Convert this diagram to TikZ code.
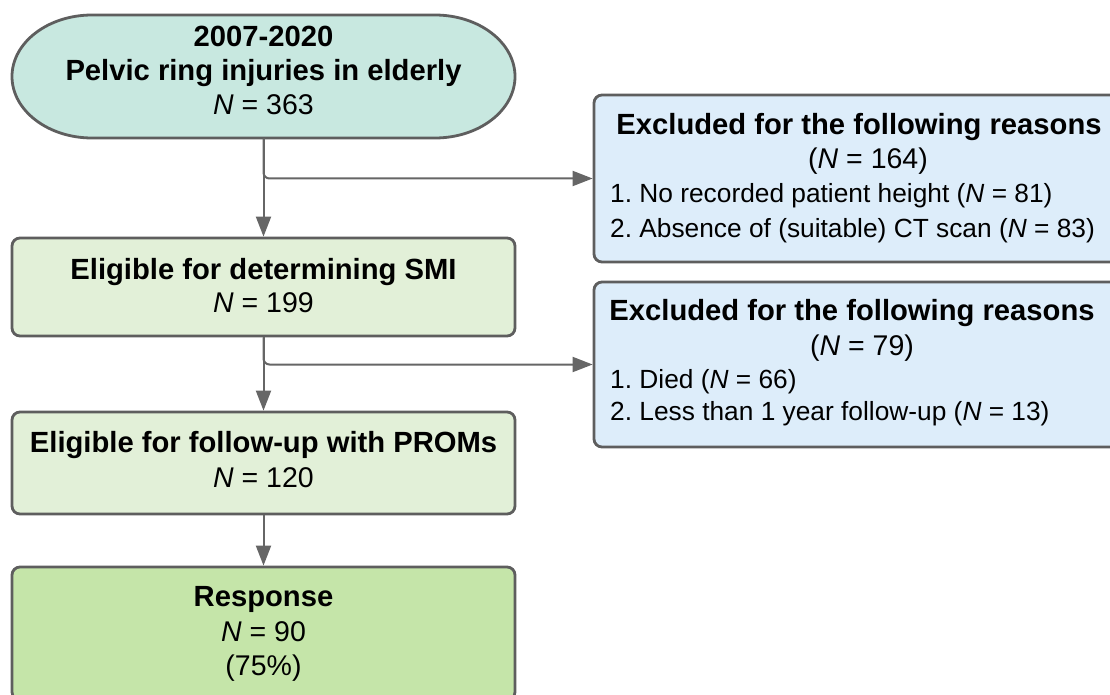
\documentclass[tikz,border=0pt]{standalone}
\usepackage{fontspec}
\setmainfont{Liberation Sans}
\usetikzlibrary{arrows.meta}
\frenchspacing
\definecolor{cTop}{RGB}{200,232,224}
\definecolor{cGreen}{RGB}{226,240,216}
\definecolor{cResp}{RGB}{197,229,169}
\definecolor{cBlue}{RGB}{221,237,250}
\definecolor{cBorder}{RGB}{94,94,94}
\definecolor{cLine}{RGB}{102,102,102}
\begin{document}
\begin{tikzpicture}[x=1pt,y=-1pt,
  box/.style={draw=cBorder, line width=2.8pt, rounded corners=8pt, inner sep=0pt},
  tb/.style={font=\fontsize{29.2}{34}\selectfont\bfseries, inner sep=0pt, anchor=base},
  tr/.style={font=\fontsize{28.5}{34}\selectfont, inner sep=0pt, anchor=base},
  tl/.style={font=\fontsize{26.3}{34}\selectfont, inner sep=0pt, anchor=base west},
  conn/.style={draw=cLine, line width=2pt, -{Triangle[length=20pt,width=15pt]}},
]
\clip (0,0) rectangle (1110,695);
\fill[white] (0,0) rectangle (1110,695);
% top stadium
\draw[draw=cBorder, line width=2.8pt, fill=cTop] (92,15) -- (435,15)
  .. controls (479,15) and (515,42.5) .. (515,76.5)
  .. controls (515,110.5) and (479,138) .. (435,138) -- (92,138)
  .. controls (48,138) and (12,110.5) .. (12,76.5)
  .. controls (12,42.5) and (48,15) .. (92,15) -- cycle;
\node[minimum width=503pt, minimum height=123pt, inner sep=0pt] (top) at (263.5,76.5) {};
\node[tb] (t1) at (263.5,47) {2007-2020};
\node[tb] (t2) at (263.5,81) {Pelvic ring injuries in elderly};
\node[tr] (t3) at (263.5,115) {\textit{N} = 363};
% left boxes
\node[box, fill=cGreen, minimum width=503pt, minimum height=98pt] (b2) at (263.5,287) {};
\node[tb] (b2a) at (263.5,279) {Eligible for determining SMI};
\node[tr] (b2b) at (263.5,312) {\textit{N} = 199};
\node[box, fill=cGreen, minimum width=503pt, minimum height=102pt] (b3) at (263.5,463) {};
\node[tb] (b3a) at (263.5,452) {Eligible for follow-up with PROMs};
\node[tr] (b3b) at (263.5,487) {\textit{N} = 120};
\node[box, fill=cResp, minimum width=503pt, minimum height=133pt] (b4) at (263.5,633.5) {};
\node[tb] (b4a) at (263.5,606) {Response};
\node[tr] (b4b) at (263.5,641) {\textit{N} = 90};
\node[tr] (b4c) at (263.5,675) {(75\%)};
% right boxes
\node[box, fill=cBlue, minimum width=540pt, minimum height=167pt] (ex1) at (864,178.5) {};
\node[tb] (e1a) at (859,135) {Excluded for the following reasons};
\node[tr] (e1b) at (868,169) {(\textit{N} = 164)};
\node[tl] (e1c) at (610,203) {1. No recorded patient height (\textit{N} = 81)};
\node[tl] (e1d) at (610,237) {2. Absence of (suitable) CT scan (\textit{N} = 83)};
\node[box, fill=cBlue, minimum width=540pt, minimum height=165pt] (ex2) at (864,364.5) {};
\node[tb] (e2a) at (852,320) {Excluded for the following reasons};
\node[tr] (e2b) at (862,355) {(\textit{N} = 79)};
\node[tl] (e2c) at (610,388) {1. Died (\textit{N} = 66)};
\node[tl] (e2d) at (610,420) {2. Less than 1 year follow-up (\textit{N} = 13)};
% connectors
\draw[conn] (top.south) -- (b2.north);
\draw[conn, rounded corners=6pt] (top.south) |- (ex1.west);
\draw[conn] (b2.south) -- (b3.north);
\draw[conn, rounded corners=6pt] (b2.south) |- (ex2.west);
\draw[conn] (b3.south) -- (b4.north);
\end{tikzpicture}
\end{document}
